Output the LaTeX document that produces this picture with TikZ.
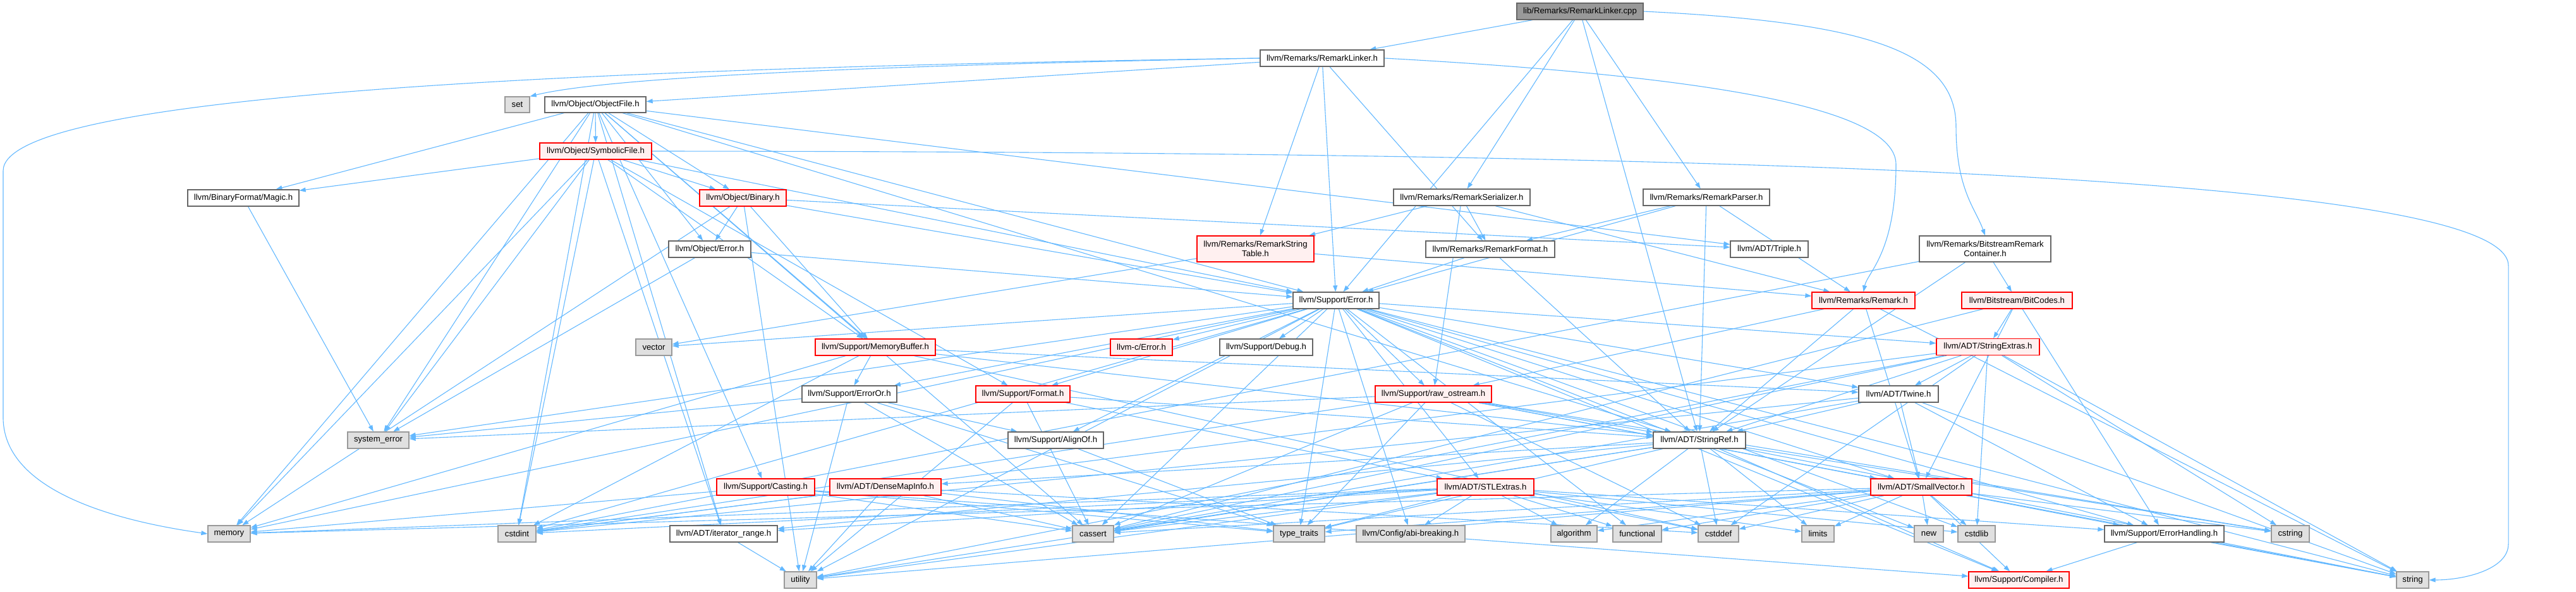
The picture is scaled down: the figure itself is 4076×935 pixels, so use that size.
\documentclass[tikz,border=0pt]{standalone}
\usepackage{fontspec}
\setmainfont{Liberation Sans}
\usetikzlibrary{arrows.meta, positioning, backgrounds}
\definecolor{flechaazul}{HTML}{63B8FF}
\definecolor{bordegris}{HTML}{666666}
\definecolor{bordeclaro}{HTML}{999999}
\definecolor{rellenogris}{HTML}{E0E0E0}
\definecolor{rellenorojo}{HTML}{FFF0F0}
\definecolor{raizgris}{HTML}{999999}

\tikzset{
  archivo/.style={draw=bordegris, fill=white, line width=1.3pt, minimum height=26, inner sep=2pt,
    font=\fontsize{13.2}{15}\selectfont, align=center},
  archivorojo/.style={archivo, draw=red, fill=rellenorojo},
  sistema/.style={archivo, draw=bordeclaro, fill=rellenogris},
  raiz/.style={archivo, fill=raizgris},
  flecha/.style={draw=flechaazul, line width=1.1pt, -{Triangle[length=10pt,width=7pt]}},
}

\begin{document}
\begin{tikzpicture}[x=1pt, y=-1pt]
  \useasboundingbox (0,0) rectangle (4076,935);
  % Raiz y cabeceras de Remarks
  \node[raiz, minimum width=200] (cpp) at (2500,18) {lib/Remarks/RemarkLinker.cpp};
  \node[archivo, minimum width=196] (linkh) at (2092,92) {llvm/Remarks/RemarkLinker.h};
  \node[archivo, minimum width=216] (ser) at (2313,312) {llvm/Remarks/RemarkSerializer.h};
  \node[archivo, minimum width=200] (parser) at (2700,312) {llvm/Remarks/RemarkParser.h};
  \node[archivorojo, minimum width=185, minimum height=41] (strtab) at (1986.5,393.5) {llvm/Remarks/RemarkString\\Table.h};
  \node[archivo, minimum width=204] (format) at (2358,394) {llvm/Remarks/RemarkFormat.h};
  \node[archivo, minimum width=123] (triple) at (2799.5,394) {llvm/ADT/Triple.h};
  \node[archivo, minimum width=208, minimum height=41] (bscont) at (3141,393.5) {llvm/Remarks/BitstreamRemark\\Container.h};
  \node[archivorojo, minimum width=163] (remark) at (2948.5,475) {llvm/Remarks/Remark.h};
  \node[archivorojo, minimum width=175] (bitcodes) at (3191.5,475) {llvm/Bitstream/BitCodes.h};
  % Cabeceras de Object
  \node[sistema, minimum width=39, minimum height=25] (set) at (818.5,165.5) {set};
  \node[archivo, minimum width=160, minimum height=25] (objfile) at (942,165.5) {llvm/Object/ObjectFile.h};
  \node[archivorojo, minimum width=177] (symfile) at (942.5,239) {llvm/Object/SymbolicFile.h};
  \node[archivo, minimum width=176] (magic) at (385,313) {llvm/BinaryFormat/Magic.h};
  \node[archivorojo, minimum width=137] (binary) at (1175.5,313) {llvm/Object/Binary.h};
  \node[archivo, minimum width=130] (objerr) at (1123,394) {llvm/Object/Error.h};
  % Support y ADT
  \node[archivo, minimum width=136] (err) at (2114,475) {llvm/Support/Error.h};
  \node[sistema, minimum width=57] (vector) at (1034.5,549) {vector};
  \node[archivorojo, minimum width=190] (membuf) at (1385,549) {llvm/Support/MemoryBuffer.h};
  \node[archivorojo, minimum width=98] (cerror) at (1806,549) {llvm-c/Error.h};
  \node[archivo, minimum width=147] (debug) at (2003.5,549) {llvm/Support/Debug.h};
  \node[archivorojo, minimum width=163] (strext) at (3145.5,548.5) {llvm/ADT/StringExtras.h};
  \node[archivo, minimum width=150] (erroror) at (1344,623) {llvm/Support/ErrorOr.h};
  \node[archivorojo, minimum width=149] (fmt) at (1618.5,623) {llvm/Support/Format.h};
  \node[archivorojo, minimum width=184] (rawos) at (2268,623) {llvm/Support/raw\_ostream.h};
  \node[archivo, minimum width=126] (twine) at (3004,623) {llvm/ADT/Twine.h};
  \node[sistema, minimum width=97] (syserr) at (598.5,696) {system\_error};
  \node[archivo, minimum width=151] (alignof) at (1670.5,696) {llvm/Support/AlignOf.h};
  \node[archivo, minimum width=146] (strref) at (2689,696) {llvm/ADT/StringRef.h};
  \node[archivorojo, minimum width=155] (casting) at (1211.5,770) {llvm/Support/Casting.h};
  \node[archivorojo, minimum width=176] (dmi) at (1401,770) {llvm/ADT/DenseMapInfo.h};
  \node[archivorojo, minimum width=153] (stlext) at (2350.5,770) {llvm/ADT/STLExtras.h};
  \node[archivorojo, minimum width=160] (smallvec) at (3040,770) {llvm/ADT/SmallVector.h};
  % Fila inferior
  \node[sistema, minimum width=67] (memory) at (362.5,844) {memory};
  \node[sistema, minimum width=60] (cstdint) at (818,844) {cstdint};
  \node[archivo, minimum width=170] (itrange) at (1145,844) {llvm/ADT/iterator\_range.h};
  \node[sistema, minimum width=65] (cassert) at (1729.5,844) {cassert};
  \node[sistema, minimum width=81] (typetr) at (2055.5,844) {type\_traits};
  \node[sistema, minimum width=172] (abi) at (2232,844) {llvm/Config/abi-breaking.h};
  \node[sistema, minimum width=73] (algo) at (2490.5,844) {algorithm};
  \node[sistema, minimum width=77] (func) at (2590.5,844) {functional};
  \node[sistema, minimum width=64] (cstddef) at (2719,844) {cstddef};
  \node[sistema, minimum width=51] (limits) at (2876.5,844) {limits};
  \node[sistema, minimum width=46] (new) at (3052,844) {new};
  \node[sistema, minimum width=59] (cstdlib) at (3127.5,844) {cstdlib};
  \node[archivo, minimum width=189] (errhand) at (3424.5,844) {llvm/Support/ErrorHandling.h};
  \node[sistema, minimum width=60] (cstring) at (3624,844) {cstring};
  \node[sistema, minimum width=51] (utility) at (1266.5,917) {utility};
  \node[archivorojo, minimum width=159] (compiler) at (3194.5,917) {llvm/Support/Compiler.h};
  \node[sistema, minimum width=51] (string) at (3817.5,917) {string};

  \begin{scope}[on background layer]
    % Desde la raiz
    \foreach \dest in {linkh,err,ser,strref,parser} \draw[flecha] (cpp) -- (\dest);
    \draw[flecha] (cpp.east) .. controls (2950,35) and (3095,80) .. (3095,200) .. controls (3095,300) and (3126,330) .. (bscont.north);
    % RemarkLinker.h
    \foreach \dest in {objfile,strtab,err,format} \draw[flecha] (linkh) -- (\dest);
    \draw[flecha] (linkh.west) .. controls (1300,105) and (950,125) .. (set.north east);
    \draw[flecha] (linkh.west) .. controls (900,108) and (5,150) .. (5,270) -- (5,660) .. controls (5,790) and (230,830) .. (memory.west);
    \draw[flecha] (linkh.east) .. controls (2700,120) and (3000,170) .. (3000,260) .. controls (3000,400) and (2955,430) .. (remark.north);
    % Object
    \foreach \dest in {symfile,magic,binary,objerr,triple,strref,itrange,casting,err,membuf,cassert,cstdint,memory,syserr}
      \draw[flecha] (objfile) -- (\dest);
    \foreach \dest in {magic,binary,err,fmt,membuf,itrange,cstdint,memory,syserr} \draw[flecha] (symfile) -- (\dest);
    \draw[flecha] (symfile.east) .. controls (2600,240) and (3969,270) .. (3969,420) -- (3969,860) .. controls (3969,900) and (3900,917) .. (string.east);
    \foreach \dest in {objerr,err,membuf,triple,memory,utility} \draw[flecha] (binary) -- (\dest);
    \draw[flecha] (magic) -- (syserr);
    \foreach \dest in {err,syserr} \draw[flecha] (objerr) -- (\dest);
    % Remarks
    \foreach \dest in {strtab,format,rawos,remark} \draw[flecha] (ser) -- (\dest);
    \foreach \dest in {format,err,strref,remark} \draw[flecha] (parser) -- (\dest);
    \foreach \dest in {strref,err} \draw[flecha] (format) -- (\dest);
    \foreach \dest in {remark,vector} \draw[flecha] (strtab) -- (\dest);
    \foreach \dest in {smallvec,strref,rawos,string} \draw[flecha] (remark) -- (\dest);
    \foreach \dest in {bitcodes,strref,cstdint} \draw[flecha] (bscont) -- (\dest);
    \foreach \dest in {strext,smallvec,errhand,cassert} \draw[flecha] (bitcodes) -- (\dest);
    % Support/Error.h
    \foreach \dest in {cerror,debug,strext,smallvec,twine,stlext,abi,alignof,compiler,errhand,erroror,fmt,rawos,
      cassert,cstdint,cstdlib,func,memory,new,string,syserr,typetr,utility,vector}
      \draw[flecha] (err) -- (\dest);
    % Support y ADT
    \foreach \dest in {strref,twine,erroror,cstddef,cstdint,memory} \draw[flecha] (membuf) -- (\dest);
    \foreach \dest in {alignof,cassert,syserr,typetr,utility} \draw[flecha] (erroror) -- (\dest);
    \foreach \dest in {stlext,strref,cassert,utility} \draw[flecha] (fmt) -- (\dest);
    \foreach \dest in {smallvec,strref,cassert,cstddef,cstdint,cstring,string,syserr,typetr} \draw[flecha] (rawos) -- (\dest);
    \draw[flecha] (alignof) -- (typetr);
    \foreach \dest in {smallvec,strref,errhand,cassert,cstdint,string} \draw[flecha] (twine) -- (\dest);
    \foreach \dest in {strref,twine,cassert,cstddef,cstdint,cstdlib,cstring,string,utility} \draw[flecha] (strext) -- (\dest);
    \foreach \dest in {dmi,itrange,compiler,algo,cassert,cstddef,cstring,limits,string,typetr,utility}
      \draw[flecha] (strref) -- (\dest);
    \foreach \dest in {compiler,errhand,algo,cassert,cstddef,cstdlib,cstring,func,limits,memory,new,typetr,utility}
      \draw[flecha] (smallvec) -- (\dest);
    \foreach \dest in {itrange,abi,errhand,algo,cassert,cstddef,cstdint,cstdlib,func,limits,memory,typetr,utility}
      \draw[flecha] (stlext) -- (\dest);
    \foreach \dest in {compiler,cassert,memory,typetr} \draw[flecha] (casting) -- (\dest);
    \foreach \dest in {cassert,cstddef,cstdint,typetr,utility} \draw[flecha] (dmi) -- (\dest);
    \draw[flecha] (itrange) -- (utility);
    \foreach \dest in {compiler,string} \draw[flecha] (errhand) -- (\dest);
  \end{scope}
\end{tikzpicture}
\end{document}
